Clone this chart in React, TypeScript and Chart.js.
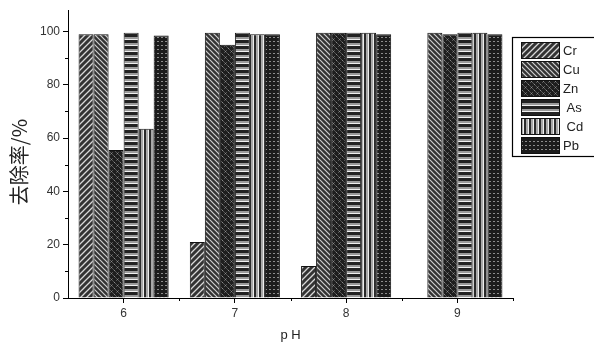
import React, { useEffect, useRef } from "react";
import { Chart, registerables } from "chart.js";

Chart.register(...registerables);

const categories = ["6", "7", "8", "9"];
const seriesNames = ["Cr", "Cu", "Zn", " As", " Cd", "Pb"];
const crValues = [99, 21, 12, 0];
const cuValues = [99, 99.5, 99.5, 99.5];
const znValues = [55.5, 95, 99.5, 99];
const asValues = [99.5, 99.5, 99.5, 99.5];
const cdValues = [63.5, 99, 99.5, 99.5];
const pbValues = [98.5, 99, 99, 99];
const yTicks = [0, 20, 40, 60, 80, 100];
const yTitle = "去除率/%";

function makeTile(size: number, draw: (c: CanvasRenderingContext2D, s: number) => void) {
  const cv = document.createElement("canvas");
  cv.width = size;
  cv.height = size;
  const c = cv.getContext("2d")!;
  draw(c, size);
  return c.createPattern(cv, "repeat")!;
}

function buildPatterns() {
  const cr = makeTile(6, (c, s) => {
    c.fillStyle = "#333";
    c.fillRect(0, 0, s, s);
    c.strokeStyle = "#d8d8d8";
    c.lineWidth = 1.3;
    c.beginPath();
    c.moveTo(0, s); c.lineTo(s, 0);
    c.moveTo(-1, 1); c.lineTo(1, -1);
    c.moveTo(s - 1, s + 1); c.lineTo(s + 1, s - 1);
    c.stroke();
  });
  const cu = makeTile(5, (c, s) => {
    c.fillStyle = "#333";
    c.fillRect(0, 0, s, s);
    c.strokeStyle = "#cfcfcf";
    c.lineWidth = 1.2;
    c.beginPath();
    c.moveTo(0, 0); c.lineTo(s, s);
    c.moveTo(-1, s - 1); c.lineTo(1, s + 1);
    c.moveTo(s - 1, -1); c.lineTo(s + 1, 1);
    c.stroke();
  });
  const zn = makeTile(6, (c, s) => {
    c.fillStyle = "#1e1e1e";
    c.fillRect(0, 0, s, s);
    c.fillStyle = "#8a8a8a";
    c.fillRect(0, 0, 1, 1);
    c.fillRect(3, 3, 1, 1);
    c.fillStyle = "#555";
    c.fillRect(1, 1, 1, 1);
    c.fillRect(2, 2, 1, 1);
    c.fillRect(4, 4, 1, 1);
    c.fillRect(5, 5, 1, 1);
    c.fillRect(4, 2, 1, 1);
    c.fillRect(2, 4, 1, 1);
  });
  const as = makeTile(6, (c, s) => {
    c.fillStyle = "#222";
    c.fillRect(0, 0, s, s);
    c.fillStyle = "#9a9a9a";
    c.fillRect(0, 1, s, 2);
    c.fillStyle = "#f0f0f0";
    c.fillRect(0, 3, s, 1);
  });
  const cd = makeTile(5, (c, s) => {
    c.fillStyle = "#2a2a2a";
    c.fillRect(0, 0, s, s);
    c.fillStyle = "#a8a8a8";
    c.fillRect(1, 0, 2, s);
    c.fillStyle = "#eeeeee";
    c.fillRect(3, 0, 1, s);
  });
  const pb = makeTile(4, (c, s) => {
    c.fillStyle = "#1c1c1c";
    c.fillRect(0, 0, s, s);
    c.fillStyle = "#8c8c8c";
    c.fillRect(1, 1, 2, 1);
  });
  return [cr, cu, zn, as, cd, pb];
}

export default function App() {
  const ref = useRef<HTMLCanvasElement | null>(null);

  useEffect(() => {
    if (!ref.current) return;
    const patterns = buildPatterns();
    const values = [crValues, cuValues, znValues, asValues, cdValues, pbValues];
    const font = "'Liberation Sans', Arial, sans-serif";

    const extras = {
      id: "extras",
      afterDraw(chart: any) {
        const ctx = chart.ctx as CanvasRenderingContext2D;
        const ys = chart.scales.y;
        const a = chart.chartArea;
        ctx.save();
        ctx.strokeStyle = "#000";
        ctx.lineWidth = 1;
        // minor y ticks
        for (let v = 10; v < 100; v += 20) {
          const py = Math.round(ys.getPixelForValue(v)) + 0.5;
          ctx.beginPath();
          ctx.moveTo(a.left - 3, py);
          ctx.lineTo(a.left, py);
          ctx.stroke();
        }
        // minor x ticks at category boundaries
        const n = categories.length;
        for (let i = 1; i <= n; i++) {
          const px = Math.round(a.left + (i * (a.right - a.left)) / n) + 0.5;
          ctx.beginPath();
          ctx.moveTo(px, a.bottom);
          ctx.lineTo(px, a.bottom + 3);
          ctx.stroke();
        }
        // y title
        ctx.save();
        ctx.translate(19, 162);
        ctx.rotate(-Math.PI / 2);
        ctx.font = "20px 'Noto Sans CJK SC', sans-serif";
        ctx.fillStyle = "#222";
        ctx.textAlign = "center";
        ctx.textBaseline = "middle";
        ctx.fillText(yTitle, 0, 0);
        ctx.restore();
        // legend
        const lx = a.right - 1;
        const ly = 37;
        ctx.strokeStyle = "#000";
        ctx.lineWidth = 1.2;
        ctx.strokeRect(lx + 0.5, ly + 0.5, 100, 119);
        const rowH = 19;
        ctx.font = "13px " + font;
        ctx.textBaseline = "middle";
        chart.data.datasets.forEach((ds: any, i: number) => {
          const top = ly + 5 + i * rowH;
          ctx.fillStyle = ds.backgroundColor;
          ctx.fillRect(lx + 9, top, 39, 17);
          ctx.lineWidth = 1;
          ctx.strokeStyle = "#111";
          ctx.strokeRect(lx + 9.5, top + 0.5, 38, 16);
          ctx.fillStyle = "#222";
          ctx.fillText(ds.label, lx + 51, top + 9);
        });
        ctx.restore();
      },
    };

    const chart = new Chart(ref.current, {
      type: "bar",
      data: {
        labels: categories,
        datasets: seriesNames.map((name, i) => ({
          label: name,
          data: values[i],
          backgroundColor: patterns[i] as any,
          borderColor: "#111",
          borderWidth: 1,
          barPercentage: 1,
          categoryPercentage: 0.81,
        })),
      },
      options: {
        animation: false,
        responsive: false,
        layout: { padding: { top: 7, right: 81, left: 0, bottom: 0 } },
        plugins: { legend: { display: false }, tooltip: { enabled: false } },
        scales: {
          x: {
            grid: {
              offset: false,
              drawOnChartArea: false,
              drawTicks: true,
              tickLength: 5,
              color: "#000",
            },
            border: { color: "#000", width: 1 },
            ticks: {
              color: "#333",
              font: { family: font, size: 12 },
              padding: 3,
            },
            title: {
              display: true,
              text: "p H",
              color: "#222",
              font: { family: font, size: 13 },
              padding: { top: 4, bottom: 0 },
            },
            afterFit: (s: any) => {
              s.height = 45;
            },
          },
          y: {
            min: 0,
            max: 108,
            grid: {
              drawOnChartArea: false,
              drawTicks: true,
              tickLength: 5,
              color: "#000",
            },
            border: { color: "#000", width: 1 },
            ticks: {
              stepSize: 20,
              includeBounds: false,
              color: "#333",
              font: { family: font, size: 12 },
              padding: 3,
              callback: (v: any) => (yTicks.includes(Number(v)) ? String(v) : ""),
            },
            afterFit: (s: any) => {
              s.width = 68;
            },
          },
        },
      },
      plugins: [extras],
    });
    return () => chart.destroy();
  }, []);

  return (
    <div style={{ position: "absolute", left: 0, top: 0, width: 594, height: 343, background: "#fff" }}>
      <canvas ref={ref} width={594} height={343} style={{ display: "block" }} />
    </div>
  );
}
